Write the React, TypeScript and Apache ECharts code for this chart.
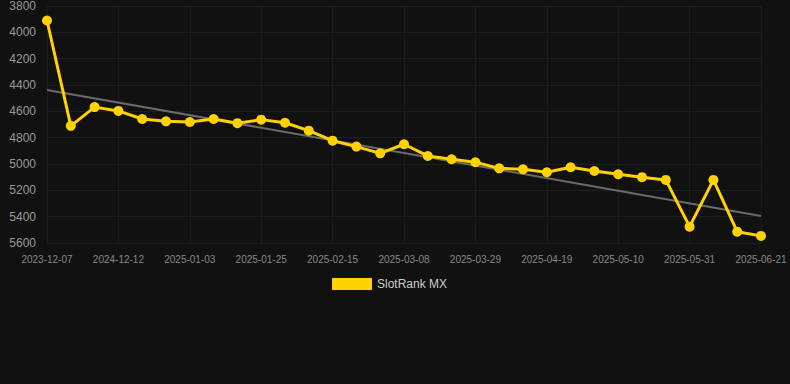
import React, { useEffect, useRef } from "react";
import * as echarts from "echarts";

const categories = [
  "2023-12-07", "2024-11-28", "2024-12-05", "2024-12-12", "2024-12-19", "2024-12-26",
  "2025-01-03", "2025-01-10", "2025-01-17", "2025-01-25", "2025-02-01", "2025-02-08",
  "2025-02-15", "2025-02-22", "2025-03-01", "2025-03-08", "2025-03-15", "2025-03-22",
  "2025-03-29", "2025-04-05", "2025-04-12", "2025-04-19", "2025-04-26", "2025-05-03",
  "2025-05-10", "2025-05-17", "2025-05-24", "2025-05-31", "2025-06-07", "2025-06-14",
  "2025-06-21",
];

const rankValues = [
  3910, 4710, 4568, 4597, 4658, 4676, 4681, 4658, 4690, 4663, 4687, 4747,
  4823, 4868, 4919, 4850, 4939, 4964, 4987, 5033, 5040, 5063, 5025, 5053,
  5078, 5100, 5121, 5476, 5121, 5514, 5546,
];

const trendStart = 4438;
const trendEnd = 5395;

const seriesName = "SlotRank MX";

export default function App() {
  const ref = useRef<HTMLDivElement>(null);
  useEffect(() => {
    document.body.style.margin = "0";
    if (!ref.current) return;
    const chart = echarts.init(ref.current, null, { renderer: "svg" });
    const trendData = categories.map((_, i) =>
      i === 0 ? trendStart : i === categories.length - 1 ? trendEnd : "-"
    );
    chart.setOption({
      animation: false,
      backgroundColor: "#111111",
      textStyle: { fontFamily: "Liberation Sans, Arial, sans-serif" },
      grid: { left: 47, right: 29, top: 6, bottom: 141 },
      legend: {
        data: [{ name: seriesName, icon: "rect" }],
        top: 273,
        left: 327,
        itemWidth: 40,
        itemHeight: 12,
        itemGap: 10,
        textStyle: { color: "#cccccc", fontSize: 12 },
      },
      xAxis: {
        type: "category",
        data: categories,
        boundaryGap: false,
        axisLine: { show: false },
        axisTick: { show: false },
        axisLabel: { color: "#888888", fontSize: 10, interval: 2, margin: 11 },
        splitLine: { show: true, interval: 2, lineStyle: { color: "#1c1c1c" } },
      },
      yAxis: {
        type: "value",
        inverse: true,
        min: 3800,
        max: 5600,
        interval: 200,
        axisLine: { show: false },
        axisTick: { show: false },
        axisLabel: {
          color: "#999999",
          fontSize: 12,
          margin: 11,
          formatter: (v: number) => String(v),
        },
        splitLine: { lineStyle: { color: "#1f1f1f" } },
      },
      series: [
        {
          name: "trend",
          type: "line",
          data: trendData,
          connectNulls: true,
          showSymbol: false,
          symbol: "none",
          lineStyle: { color: "#6b6b6b", width: 2 },
          silent: true,
          z: 1,
        },
        {
          name: seriesName,
          type: "line",
          data: rankValues,
          symbol: "circle",
          symbolSize: 10,
          itemStyle: { color: "#ffd200" },
          lineStyle: { color: "#ffd200", width: 3 },
          z: 2,
        },
      ],
    });
    return () => chart.dispose();
  }, []);
  return (
    <div
      ref={ref}
      style={{ position: "absolute", left: 0, top: 0, width: 790, height: 384 }}
    />
  );
}
